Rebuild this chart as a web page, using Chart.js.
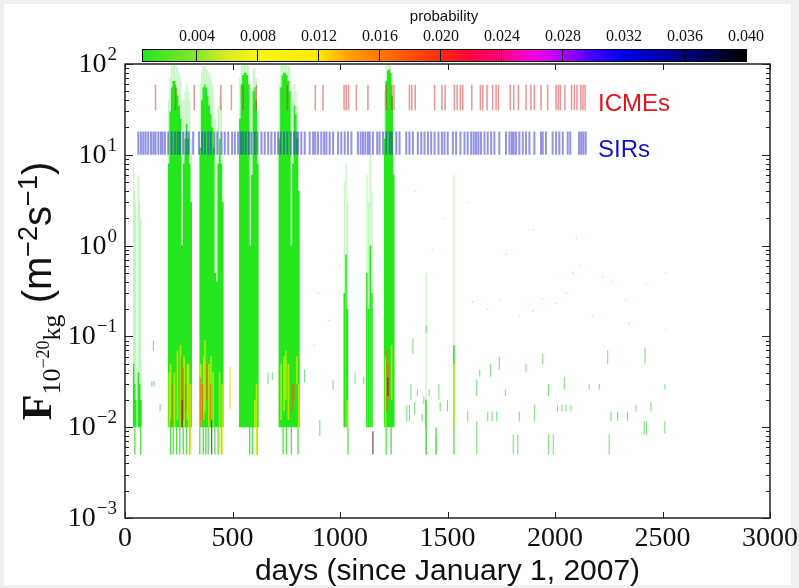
<!DOCTYPE html>
<html>
<head>
<meta charset="utf-8">
<script src="https://cdn.jsdelivr.net/npm/chart.js@4.4.1/dist/chart.umd.min.js"></script>
<style>
  html, body { margin: 0; padding: 0; background: #efefef; }
  #fig { position: absolute; left: 4px; top: 4px; width: 787px; height: 581px; background: #fff; }
  canvas { position: absolute; left: 0; top: 0; }
</style>
</head>
<body>
<div id="fig"></div>
<canvas id="main" width="799" height="588"></canvas>
<canvas id="cbar" width="799" height="80"></canvas>
<script>
// ========= data (days since 2007-01-01, flux in m^-2 s^-1) =========

const X_TICKS = [0, 500, 1000, 1500, 2000, 2500, 3000];
const Y_DECADES = [-3, -2, -1, 0, 1, 2];

// dense columns: day, top of the solid part, top of the faint part
const bandDays = [
  40, 45, 50, 62, 68, 74,
  203, 210, 217, 224, 231, 238, 245, 252, 259, 266, 273, 280, 287, 294, 301, 308,
  350, 357, 364, 371, 378, 385, 392, 399, 406, 413, 420, 427, 434, 441, 448, 455,
  534, 541, 548, 555, 562, 569, 576, 583, 590, 597, 604, 611, 618,
  718, 725, 732, 739, 746, 753, 760, 767, 774, 781, 788, 795, 802, 809,
  1020, 1028, 1035,
  1125, 1133, 1141, 1149,
  1208, 1215, 1222, 1229, 1236, 1243, 1250,
  1400, 1530
];
const bandSolidTop = [
  0.05, 0.03, 0.02, 0.04, 0.03, 0.02,
  8, 30, 55, 65, 65, 55, 45, 35, 25, 1, 8, 15, 22, 15, 8, 3,
  12, 40, 55, 60, 55, 45, 35, 28, 20, 12, 0.5, 0.4, 8, 15, 8, 3,
  25, 60, 75, 80, 80, 75, 60, 1, 6, 50, 55, 40, 8,
  15, 55, 75, 80, 80, 75, 65, 50, 1, 8, 35, 28, 15, 4,
  0.3, 0.8, 0.2,
  0.5, 0.2, 1, 0.3,
  15, 65, 85, 88, 80, 45, 6,
  0.02, 0.08
];
const bandFadeTop = [
  8, 4, 3, 6, 3, 2,
  40, 70, 95, 98, 98, 95, 90, 80, 70, 40, 40, 50, 60, 50, 40, 15,
  60, 85, 95, 95, 90, 85, 80, 70, 60, 45, 25, 20, 35, 45, 35, 10,
  70, 95, 98, 98, 98, 98, 95, 60, 50, 90, 90, 70, 30,
  60, 95, 98, 98, 98, 98, 95, 90, 50, 40, 60, 50, 35, 10,
  5, 8, 3,
  6, 3, 10, 4,
  50, 95, 98, 98, 98, 80, 20,
  0.5, 6
];
const BAND_BOTTOM = 0.01;

// separate strokes below the dense part
const lowDays = [46, 73, 212, 224, 240, 255, 271, 286, 302, 348, 364, 376, 387, 418, 433, 449,
  580, 593, 615, 735, 751, 774, 805, 1037, 1215, 1238, 1401, 1447, 1530];
const LOW_RANGE = [0.005, 0.01];

// yellow / orange / dark streaks near the bottom
const yellowDays = [206, 212, 230, 244, 258, 275, 290, 296, 305, 352, 366, 372, 390, 400, 410, 440, 452, 488, 604, 612,
  726, 740, 748, 760, 800, 808, 1034, 1212, 1240, 1530];
const yellowLo   = [0.01, 0.012, 0.01, 0.012, 0.01, 0.01, 0.012, 0.01, 0.005, 0.01, 0.012, 0.015, 0.01, 0.012, 0.01, 0.005, 0.005, 0.016, 0.01, 0.005,
  0.012, 0.015, 0.02, 0.012, 0.03, 0.01, 0.01, 0.01, 0.02, 0.01];
const yellowHi   = [0.04, 0.05, 0.04, 0.07, 0.08, 0.06, 0.05, 0.05, 0.03, 0.05, 0.06, 0.09, 0.05, 0.06, 0.04, 0.04, 0.03, 0.046, 0.02, 0.03,
  0.05, 0.06, 0.07, 0.05, 0.06, 0.03, 0.02, 0.06, 0.08, 0.05];

const hotDays = [218, 262, 270, 282, 350, 360, 380, 398, 778, 785, 1218, 1226];
const hotLo   = [0.01, 0.01, 0.012, 0.015, 0.01, 0.012, 0.02, 0.012, 0.015, 0.02, 0.015, 0.02];
const hotHi   = [0.03, 0.06, 0.045, 0.03, 0.035, 0.03, 0.05, 0.03, 0.03, 0.03, 0.07, 0.05];

const darkDays = [266, 403, 1153, 1223];
const darkLo   = [0.01, 0.005, 0.005, 0.022];
const darkHi   = [0.02, 0.012, 0.009, 0.035];

// isolated short dashes
const speckDays = [1401, 1447, 1636, 1806, 1827, 1970, 1992, 2252, 1311, 1323, 1347, 1382, 1415, 1466, 1594, 1636,
  1687, 1707, 1729, 1769, 1834, 1904, 1970, 2012, 2032, 2051, 2074, 2043, 2159, 2206, 2260, 2291, 2337, 2376,
  2415, 2426, 2446, 2511, 2511, 2419, 2245, 1943, 1700, 1865, 1339, 1401, 1650, 1741,
  835, 906, 968, 1070, 1110, 1330, 1360, 1390, 1460, 1500, 125, 135, 163, 665, 685, 132];
const speckLo = [0.005, 0.005, 0.005, 0.005, 0.005, 0.005, 0.005, 0.005, 0.0116, 0.0116, 0.014, 0.0116, 0.022, 0.0149, 0.0116, 0.022,
  0.0116, 0.0116, 0.0116, 0.022, 0.0116, 0.0116, 0.022, 0.0149, 0.0149, 0.0149, 0.0149, 0.026, 0.026, 0.026, 0.0116, 0.0116, 0.0116, 0.0149,
  0.0083, 0.0083, 0.0149, 0.0085, 0.026, 0.05, 0.05, 0.05, 0.036, 0.04, 0.065, 0.11, 0.036, 0.043,
  0.031, 0.008, 0.026, 0.03, 0.03, 0.02, 0.022, 0.018, 0.02, 0.015, 0.028, 0.028, 0.015, 0.03, 0.033, 0.07];
const speckHi = [0.011, 0.0083, 0.0116, 0.0083, 0.0083, 0.0083, 0.0083, 0.0083, 0.0177, 0.0177, 0.019, 0.014, 0.026, 0.019, 0.0149, 0.033,
  0.0149, 0.0149, 0.0149, 0.026, 0.0149, 0.0177, 0.03, 0.0177, 0.0177, 0.0177, 0.0177, 0.036, 0.03, 0.03, 0.0149, 0.0149, 0.0149, 0.0177,
  0.0116, 0.0116, 0.019, 0.0116, 0.03, 0.075, 0.07, 0.065, 0.05, 0.05, 0.095, 0.13, 0.043, 0.06,
  0.043, 0.012, 0.033, 0.04, 0.036, 0.03, 0.026, 0.022, 0.03, 0.02, 0.032, 0.032, 0.018, 0.04, 0.04, 0.09];

// faint single dots higher up
const dotDays = [1432, 1772, 1834, 1896, 1943, 2005, 2051, 2082, 2120, 2221, 2268, 2330, 2423, 2515, 2515, 2345, 2175,
  1617, 1687, 1741, 1000, 1150, 880, 900, 1480, 1600, 1900, 2100, 1350, 950];
const dotVals = [0.9, 0.8, 0.17, 0.19, 0.26, 0.23, 0.3, 0.5, 0.6, 0.45, 0.4, 0.25, 0.38, 0.5, 0.12, 0.14, 0.17,
  0.24, 0.2, 0.25, 0.6, 0.35, 0.08, 0.3, 2, 3, 1.5, 1.2, 4, 0.15];

// event catalogues
const icmeDays = [142, 235, 322, 446, 495, 550, 611, 755, 885, 921, 1019, 1029, 1040,
  1076, 1130, 1215, 1241, 1251, 1323, 1334, 1350, 1440, 1474, 1489, 1532, 1545, 1560, 1571, 1613, 1653, 1664,
  1684, 1710, 1726, 1737, 1792, 1808, 1830, 1865, 1888, 1904, 1935, 1966, 2005, 2015, 2025, 2046, 2077, 2090,
  2102, 2120, 2130, 2140];
const ICME_RANGE = [31, 59];

const sirDays = [62, 74, 85, 96, 108, 121, 132, 142, 155, 167, 175, 186, 201, 217, 232, 245, 255, 271, 286, 297,
  317, 344, 359, 372, 387, 399, 415, 430, 449, 464, 480, 498, 511, 526, 539, 550, 562, 576, 588, 604, 616, 635,
  650, 666, 681, 697, 712, 724, 740, 755, 771, 786, 797, 805, 820, 836, 859, 875, 885, 898, 913, 926, 937, 952,
  968, 991, 1006, 1022, 1037, 1053, 1083, 1096, 1107, 1118, 1130, 1138, 1153, 1173, 1184, 1200, 1215, 1231, 1241,
  1262, 1277, 1308, 1323, 1339, 1362, 1378, 1393, 1409, 1424, 1440, 1458, 1474, 1486, 1501, 1525, 1540, 1560,
  1579, 1594, 1610, 1622, 1633, 1644, 1656, 1672, 1687, 1703, 1718, 1741, 1772, 1788, 1799, 1808, 1819, 1834,
  1850, 1865, 1881, 1904, 1935, 1943, 1958, 1989, 2005, 2020, 2036, 2059, 2071, 2112, 2122, 2132, 2143];
const SIR_RANGE = [10, 18];

// colour bar
const CB_MIN = 0.0004, CB_MAX = 0.040;
const cbTicks = [0.004, 0.008, 0.012, 0.016, 0.020, 0.024, 0.028, 0.032, 0.036, 0.040];
const cbStops  = [0.0004, 0.004, 0.006, 0.008, 0.012, 0.014, 0.016, 0.020, 0.022, 0.024, 0.026, 0.028, 0.030, 0.032, 0.036, 0.040];
const cbColors = ['#22e622', '#8ae62a', '#d8ec20', '#f6f614', '#ffe800', '#ffa000', '#ff7800', '#ff2a10',
  '#ff0040', '#ff0080', '#f800e0', '#b000ff', '#4000ff', '#0000e8', '#000080', '#000000'];

// ========= helpers =========

function strokes(days, lo, hi) {
  const pts = [];
  days.forEach((d, i) => {
    const a = Array.isArray(lo) ? lo[i] : lo;
    const b = Array.isArray(hi) ? hi[i] : hi;
    pts.push({ x: d, y: a }, { x: d, y: b }, { x: d, y: null });
  });
  return pts;
}

function lineSet(label, pts, color, width, order) {
  return {
    label, data: pts, order,
    showLine: true, spanGaps: false,
    borderColor: color, borderWidth: width, borderCapStyle: 'butt',
    pointRadius: 0, tension: 0
  };
}

const SERIF = '"Liberation Serif", "DejaVu Serif", serif';
const SANS = '"Liberation Sans", "DejaVu Sans", sans-serif';

// frame, inward ticks, labels
const decoPlugin = {
  id: 'deco',
  afterDraw(chart) {
    const { ctx, chartArea: a, scales: { x, y } } = chart;
    ctx.save();
    ctx.strokeStyle = '#222';
    ctx.lineWidth = 1.5;
    ctx.strokeRect(a.left, a.top, a.right - a.left, a.bottom - a.top);

    ctx.lineWidth = 1;
    ctx.beginPath();
    X_TICKS.forEach(v => {
      const px = Math.round(x.getPixelForValue(v)) + 0.5;
      ctx.moveTo(px, a.bottom); ctx.lineTo(px, a.bottom - 6);
      ctx.moveTo(px, a.top); ctx.lineTo(px, a.top + 6);
    });
    Y_DECADES.forEach(e => {
      for (let m = 1; m < 10; m++) {
        const v = m * Math.pow(10, e);
        if (v > 100.0001) break;
        const py = Math.round(y.getPixelForValue(v)) + 0.5;
        const len = m === 1 ? 8 : 4;
        ctx.moveTo(a.left, py); ctx.lineTo(a.left + len, py);
        ctx.moveTo(a.right, py); ctx.lineTo(a.right - len, py);
      }
    });
    ctx.stroke();

    ctx.fillStyle = '#111';
    ctx.textBaseline = 'alphabetic';
    ctx.textAlign = 'center';
    ctx.font = '28px ' + SERIF;
    X_TICKS.forEach(v => ctx.fillText(String(v), x.getPixelForValue(v), a.bottom + 28));

    ctx.textAlign = 'right';
    Y_DECADES.forEach(e => {
      const py = y.getPixelForValue(Math.pow(10, e));
      const ex = e < 0 ? '\u2212' + (-e) : String(e);
      ctx.font = '19px ' + SERIF;
      const ew = ctx.measureText(ex).width;
      ctx.fillText(ex, a.left - 8, py - 4);
      ctx.font = '28px ' + SERIF;
      ctx.fillText('10', a.left - 9 - ew, py + 8);
    });

    ctx.textAlign = 'center';
    ctx.font = '30px ' + SANS;
    ctx.fillText('days (since January 1, 2007)', (a.left + a.right) / 2, 580);

    // event labels
    ctx.textAlign = 'left';
    ctx.textBaseline = 'middle';
    ctx.font = '24px ' + SANS;
    ctx.fillStyle = '#e3141c';
    ctx.fillText('ICMEs', 598, 104);
    ctx.fillStyle = '#1212d0';
    ctx.fillText('SIRs', 598, 150);

    // rotated y title
    const parts = [
      { t: 'F', f: 'bold 42px ' + SERIF, dy: 0 },
      { t: '10', f: '26px ' + SERIF, dy: 9 },
      { t: '\u221220', f: '18px ' + SERIF, dy: -2 },
      { t: 'kg', f: '26px ' + SERIF, dy: 9 },
      { t: ' (m', f: '40px ' + SANS, dy: 0 },
      { t: '\u22122', f: '27px ' + SANS, dy: -14 },
      { t: 's', f: '40px ' + SANS, dy: 0 },
      { t: '\u22121', f: '27px ' + SANS, dy: -14 },
      { t: ')', f: '40px ' + SANS, dy: 0 }
    ];
    let total = 0;
    parts.forEach(p => { ctx.font = p.f; p.w = ctx.measureText(p.t).width; total += p.w; });
    ctx.fillStyle = '#111';
    ctx.textBaseline = 'alphabetic';
    ctx.translate(51, (a.top + a.bottom) / 2);
    ctx.rotate(-Math.PI / 2);
    let cx = -total / 2;
    parts.forEach(p => { ctx.font = p.f; ctx.fillText(p.t, cx, p.dy); cx += p.w; });
    ctx.restore();
  }
};

// ========= main chart =========

const datasets = [
  lineSet('faint', strokes(bandDays, BAND_BOTTOM, bandFadeTop), 'rgba(50,225,40,0.3)', 1.2, 10),
  lineSet('dense', strokes(bandDays, BAND_BOTTOM, bandSolidTop), 'rgba(20,228,10,0.9)', 1.5, 9),
  lineSet('low', strokes(lowDays, LOW_RANGE[0], LOW_RANGE[1]), 'rgba(50,220,40,0.85)', 1.3, 8),
  lineSet('yellow', strokes(yellowDays, yellowLo, yellowHi), 'rgba(235,235,0,0.7)', 1.6, 7),
  lineSet('hot', strokes(hotDays, hotLo, hotHi), 'rgba(240,100,20,0.7)', 1.5, 6),
  lineSet('dark', strokes(darkDays, darkLo, darkHi), 'rgba(110,20,70,0.75)', 1.3, 5),
  lineSet('speck', strokes(speckDays, speckLo, speckHi), 'rgba(80,220,80,0.75)', 1.1, 4),
  {
    label: 'dots', order: 3,
    data: dotDays.map((d, i) => ({ x: d, y: dotVals[i] })),
    pointRadius: 0.8, pointStyle: 'rect', borderWidth: 0,
    backgroundColor: 'rgba(120,220,120,0.7)', showLine: false
  },
  lineSet('SIRs', strokes(sirDays, SIR_RANGE[0], SIR_RANGE[1]), 'rgba(40,40,210,0.5)', 2, 2),
  lineSet('ICMEs', strokes(icmeDays, ICME_RANGE[0], ICME_RANGE[1]), 'rgba(225,40,40,0.5)', 1.5, 1)
];

new Chart(document.getElementById('main'), {
  type: 'scatter',
  data: { datasets },
  options: {
    responsive: false,
    animation: false,
    events: [],
    layout: { padding: { left: 0, top: 64, right: 29, bottom: 0 } },
    plugins: { legend: { display: false }, tooltip: { enabled: false } },
    scales: {
      x: {
        type: 'linear', min: 0, max: 3000,
        ticks: { display: false }, grid: { display: false }, border: { display: false },
        afterFit(s) { s.height = 70; }
      },
      y: {
        type: 'logarithmic', min: 0.001, max: 100,
        ticks: { display: false }, grid: { display: false }, border: { display: false },
        afterFit(s) { s.width = 125; }
      }
    }
  },
  plugins: [decoPlugin]
});

// ========= colour bar =========

const cbarFrame = {
  id: 'cbarFrame',
  afterDraw(chart) {
    const { ctx, chartArea: a } = chart;
    ctx.save();
    ctx.strokeStyle = '#000';
    ctx.lineWidth = 1;
    ctx.strokeRect(a.left + 0.5, a.top + 0.5, a.right - a.left - 1, a.bottom - a.top - 1);
    ctx.restore();
  }
};

new Chart(document.getElementById('cbar'), {
  type: 'bar',
  data: {
    labels: ['p'],
    datasets: [{
      data: [[CB_MIN, CB_MAX]],
      barPercentage: 1, categoryPercentage: 1, borderWidth: 0,
      backgroundColor(c) {
        const { chart } = c;
        const a = chart.chartArea;
        if (!a) return '#0f0';
        const g = chart.ctx.createLinearGradient(a.left, 0, a.right, 0);
        cbStops.forEach((v, i) => g.addColorStop((v - CB_MIN) / (CB_MAX - CB_MIN), cbColors[i]));
        return g;
      }
    }]
  },
  options: {
    indexAxis: 'y',
    responsive: false,
    animation: false,
    events: [],
    layout: { padding: { left: 142, right: 53, top: 0, bottom: 18 } },
    plugins: { legend: { display: false }, tooltip: { enabled: false } },
    scales: {
      x: {
        type: 'linear', position: 'top', min: CB_MIN, max: CB_MAX,
        afterFit(s) { s.height = 49; },
        afterBuildTicks(s) { s.ticks = cbTicks.map(v => ({ value: v })); },
        ticks: {
          callback: v => v.toFixed(3), color: '#111', padding: 3,
          maxRotation: 0, autoSkip: false, font: { family: SERIF, size: 16 }
        },
        grid: { color: '#000', lineWidth: 1, z: 1, drawTicks: false },
        border: { display: false },
        title: {
          display: true, text: 'probability', color: '#111',
          font: { family: SANS, size: 15 }, padding: { top: 8, bottom: 2 }
        }
      },
      y: { display: false }
    }
  },
  plugins: [cbarFrame]
});
</script>
</body>
</html>
